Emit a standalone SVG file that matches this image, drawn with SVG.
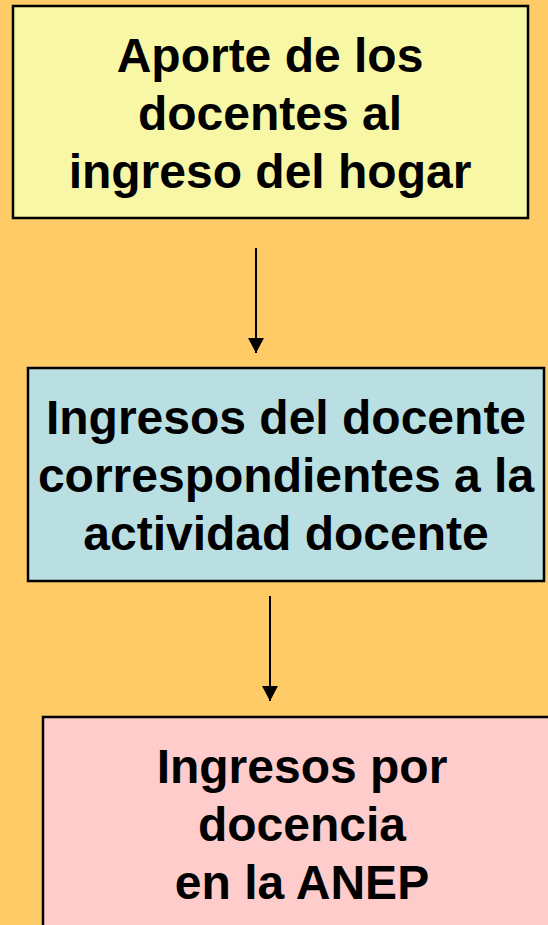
<svg xmlns="http://www.w3.org/2000/svg" width="548" height="925" viewBox="0 0 548 925">
<style>
.box{stroke:#000;stroke-width:2.5}
.t{font-family:"Liberation Sans",Arial,sans-serif;font-weight:bold;font-size:48px;fill:#000;text-anchor:middle}
.c{stroke:#000;stroke-width:2;fill:none}
</style>
<defs>
<marker id="ah" viewBox="0 0 15 16" refX="15" refY="8" markerWidth="15" markerHeight="16" markerUnits="userSpaceOnUse" orient="auto">
<path d="M0,0 L15,8 L0,16 Z" fill="#000"/>
</marker>
</defs>
<rect x="0" y="0" width="548" height="925" fill="#FECB66"/>
<g id="n1">
<rect class="box" x="13" y="6" width="515" height="212" fill="#F7F7A6"/>
<text class="t" x="270" y="72">Aporte de los</text>
<text class="t" x="270" y="130">docentes al</text>
<text class="t" x="270" y="188">ingreso del hogar</text>
</g>
<g id="n2">
<rect class="box" x="28" y="368" width="516" height="213" fill="#B9DFE3"/>
<text class="t" x="286" y="434">Ingresos del docente</text>
<text class="t" x="286" y="492">correspondientes a la</text>
<text class="t" x="286" y="550">actividad docente</text>
</g>
<g id="n3">
<rect class="box" x="43" y="717" width="530" height="230" fill="#FFCCCC"/>
<text class="t" x="302" y="783">Ingresos por</text>
<text class="t" x="302" y="841">docencia</text>
<text class="t" x="302" y="899">en la ANEP</text>
</g>
<g id="connectors">
<line class="c" x1="256" y1="248" x2="256" y2="353" marker-end="url(#ah)"/>
<line class="c" x1="270" y1="596" x2="270" y2="701" marker-end="url(#ah)"/>
</g>
</svg>
